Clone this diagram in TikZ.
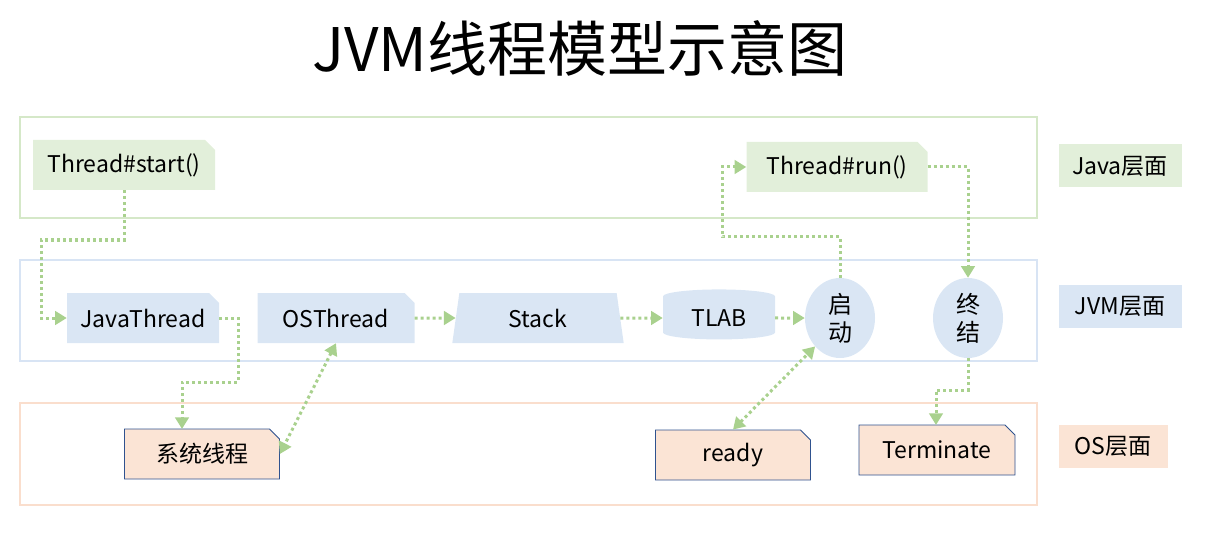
\documentclass[tikz,border=0pt]{standalone}
\usepackage{fontspec}
\setmainfont{Noto Sans CJK SC}
\usetikzlibrary{shapes.misc, shapes.geometric, arrows.meta}
\definecolor{javafill}{RGB}{226,239,218}
\definecolor{javaline}{RGB}{213,232,200}
\definecolor{jvmfill}{RGB}{218,230,244}
\definecolor{jvmline}{RGB}{216,228,244}
\definecolor{osfill}{RGB}{251,228,213}
\definecolor{osline}{RGB}{250,222,205}
\definecolor{flowcolor}{RGB}{169,209,142}
\definecolor{osborder}{RGB}{47,82,143}

\begin{document}
\begin{tikzpicture}[x=1pt, y=-1pt, >=Triangle,
  layer/.style={draw, line width=1.5pt},
  tag/.style={fill, minimum height=43pt, inner sep=0pt, font=\fontsize{23}{25}\selectfont},
  card/.style={chamfered rectangle, chamfered rectangle corners=north east,
    chamfered rectangle xsep=5pt, chamfered rectangle ysep=5pt, inner sep=0pt,
    minimum height=50pt, font=\fontsize{23}{25}\selectfont},
  jcard/.style={card, fill=javafill},
  vcard/.style={card, fill=jvmfill},
  oscard/.style={card, fill=osfill, draw=osborder, line width=0.8pt},
  state/.style={ellipse, fill=jvmfill, minimum width=70pt, minimum height=80pt,
    inner sep=0pt, align=center, font=\fontsize{24}{28}\selectfont},
  flow/.style={->, flowcolor, line width=3pt, dash pattern=on 3pt off 3pt},
  both/.style={flow, <->}]

\useasboundingbox (0,0) rectangle (1214,537);

% title
\node[font=\fontsize{60}{62}\selectfont] (title) at (580,48) {JVM线程模型示意图};

% layers
\draw[layer, javaline] (20,117) rectangle (1037,218);
\draw[layer, jvmline] (20,260) rectangle (1037,361);
\draw[layer, osline] (20,403) rectangle (1037,505);

\node[tag, javafill, text=black, minimum width=123pt] (javatag) at (1120,166) {Java层面};
\node[tag, jvmfill, text=black, minimum width=123pt] (jvmtag) at (1120,306) {JVM层面};
\node[tag, osfill, text=black, minimum width=109pt] (ostag) at (1113,446) {OS层面};

% Java level
\node[jcard, minimum width=182pt] (start) at (124,165) {Thread\#start()};
\node[jcard, minimum width=181pt] (run) at (837,167) {Thread\#run()};

% JVM level
\node[vcard, minimum width=152pt] (jthread) at (143,318) {JavaThread};
\node[vcard, minimum width=157pt] (osthread) at (336,318) {OSThread};
\node[trapezium, trapezium angle=82, fill=jvmfill, minimum height=50pt, minimum width=167pt,
  inner sep=0pt, font=\fontsize{23}{25}\selectfont] (stack) at (538,318) {Stack};
\node[cylinder, shape border rotate=90, aspect=0.25, fill=jvmfill, minimum height=50pt,
  minimum width=112pt, inner sep=0pt, font=\fontsize{23}{25}\selectfont] (tlab) at (719,318) {TLAB};
\node[state] (launch) at (840,318) {启\\动};
\node[state] (finish) at (968,318) {终\\结};

% OS level
\node[oscard, minimum width=155pt] (native) at (202,454) {系统线程};
\node[oscard, minimum width=155pt] (ready) at (733,455) {ready};
\node[oscard, minimum width=156pt] (term) at (937,450) {Terminate};

% connectors
\draw[flow] (start.south) |- (124,240) -| (41,318) -- (jthread.west);
\draw[flow] (jthread.east) -| (238,382) -| (182,429);
\draw[both] (osthread.south) -- (native.east);
\draw[flow] (osthread.east) -- (stack.west);
\draw[flow] (stack.east) -- (tlab.west);
\draw[flow] (tlab.east) -- (launch.west);
\draw[flow] (launch.north) |- (722,237) |- (run.west);
\draw[flow] (run.east) -| (finish.north);
\draw[flow] (finish.south) |- (936,390) -- (936,425);
\draw[both] (ready.north) -- (launch.south west);

\end{tikzpicture}
\end{document}
